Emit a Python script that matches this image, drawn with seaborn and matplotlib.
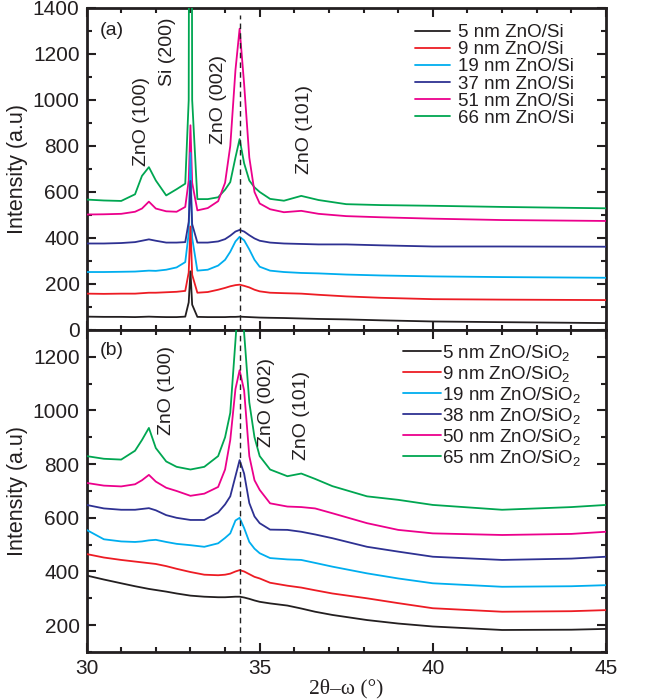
import numpy as np
import pandas as pd
import seaborn as sns
import matplotlib
matplotlib.use("Agg")
import matplotlib.pyplot as plt
from matplotlib.ticker import MultipleLocator

sns.set_theme(style="ticks")
plt.rcParams['font.family'] = ['Liberation Sans', 'DejaVu Sans']
plt.rcParams['mathtext.fontset'] = 'custom'
plt.rcParams['mathtext.rm'] = 'Liberation Sans'
plt.rcParams['mathtext.it'] = 'Liberation Sans:italic'

# ---------------- data: panel (a) ZnO/Si ----------------
x_a = [30, 30.5, 31, 31.4, 31.6, 31.8, 32.0, 32.3, 32.6, 32.85, 32.95, 33.0, 33.05,
       33.2, 33.5, 33.8, 34.0, 34.15, 34.3, 34.42, 34.55, 34.7, 34.85, 35.0, 35.3,
       35.7, 36.2, 36.7, 37.5, 38.5, 40, 42, 45]
a_5nm = [58, 57, 57, 56, 57, 58, 57, 56, 56, 58, 120, 255, 110, 57, 56, 56, 56, 57,
         57, 58, 57, 56, 55, 54, 53, 52, 50, 48, 46, 42, 37, 34, 30]
a_9nm = [158, 157, 158, 158, 160, 162, 162, 164, 166, 170, 250, 450, 240, 162, 165,
         175, 183, 190, 195, 197, 192, 185, 175, 168, 162, 160, 158, 153, 146, 140,
         134, 132, 130]
a_19nm = [252, 252, 253, 254, 256, 258, 257, 262, 272, 295, 420, 770, 400, 258, 262,
          280, 305, 340, 385, 405, 390, 350, 305, 275, 258, 252, 248, 246, 241, 237,
          233, 230, 227]
a_37nm = [376, 376, 378, 382, 388, 394, 388, 380, 380, 382, 470, 648, 460, 380, 380,
          385, 395, 410, 428, 435, 428, 412, 398, 388, 380, 376, 374, 372, 372, 368,
          363, 363, 362]
a_51nm = [502, 503, 505, 514, 528, 558, 528, 516, 514, 535, 650, 890, 640, 520, 530,
          560, 640, 800, 1130, 1310, 1070, 750, 600, 550, 525, 512, 518, 505, 495,
          490, 484, 478, 474]
a_66nm = [567, 563, 561, 590, 670, 708, 650, 585, 612, 636, 1000, 5000, 1000, 569,
          569, 577, 610, 643, 750, 830, 725, 650, 620, 600, 570, 562, 583, 565, 547,
          543, 540, 535, 529]
labels_a = ["5 nm ZnO/Si", "9 nm ZnO/Si", "19 nm ZnO/Si", "37 nm ZnO/Si",
            "51 nm ZnO/Si", "66 nm ZnO/Si"]

# ---------------- data: panel (b) ZnO/SiO2 ----------------
x_b = [30, 30.5, 31, 31.4, 31.6, 31.8, 32.0, 32.3, 32.6, 33.0, 33.4, 33.8, 34.0,
       34.15, 34.3, 34.42, 34.55, 34.7, 34.85, 35.0, 35.3, 35.8, 36.2, 36.6, 37.1,
       38.1, 39.0, 40, 42, 44, 45]
b_5nm = [385, 370, 356, 345, 340, 335, 331, 325, 318, 310, 306, 304, 304, 305, 306,
         306, 303, 298, 292, 287, 281, 273, 262, 250, 238, 219, 206, 195, 182, 183, 186]
b_9nm = [465, 452, 443, 437, 434, 431, 428, 420, 410, 398, 388, 386, 388, 392, 400,
         405, 400, 390, 380, 374, 358, 347, 340, 330, 318, 300, 282, 263, 250, 252, 256]
b_19nm = [555, 520, 512, 510, 512, 516, 518, 510, 503, 498, 492, 505, 525, 542, 590,
          600, 562, 510, 485, 468, 450, 445, 443, 432, 418, 393, 374, 356, 343, 345, 349]
b_38nm = [648, 635, 630, 630, 633, 636, 628, 610, 600, 592, 592, 620, 650, 680, 755,
          815, 765, 655, 605, 580, 556, 555, 548, 538, 524, 492, 474, 455, 443, 448, 455]
b_50nm = [730, 720, 717, 725, 740, 760, 735, 712, 700, 682, 690, 715, 780, 890, 1080,
          1150, 1075, 830, 740, 704, 654, 642, 640, 635, 617, 580, 555, 542, 536, 540, 548]
b_65nm = [830, 820, 817, 850, 890, 935, 860, 810, 790, 780, 790, 830, 900, 991, 1260,
          1480, 1290, 1030, 900, 830, 780, 755, 765, 745, 718, 680, 667, 648, 630, 640, 648]
labels_b = ["5 nm ZnO/SiO$_\\mathregular{2}$", "9 nm ZnO/SiO$_\\mathregular{2}$",
            "19 nm ZnO/SiO$_\\mathregular{2}$", "38 nm ZnO/SiO$_\\mathregular{2}$",
            "50 nm ZnO/SiO$_\\mathregular{2}$", "65 nm ZnO/SiO$_\\mathregular{2}$"]

colors = ["#231f20", "#ed1c24", "#00aeef", "#2e3192", "#ec008c", "#00a651"]

peaks_a = ["ZnO (100)", "Si (200)", "ZnO (002)", "ZnO (101)"]
peaks_a_x = [31.6, 32.35, 33.8, 36.3]
peaks_a_y = [715, 1060, 810, 680]
peaks_b = ["ZnO (100)", "ZnO (002)", "ZnO (101)"]
peaks_b_x = [32.3, 35.2, 36.2]
peaks_b_y = [910, 865, 815]

def long_df(x, series, labels):
    frames = []
    for ys, lab in zip(series, labels):
        frames.append(pd.DataFrame({"x": x, "y": ys, "sample": lab}))
    return pd.concat(frames, ignore_index=True)

df_a = long_df(x_a, [a_5nm, a_9nm, a_19nm, a_37nm, a_51nm, a_66nm], labels_a)
df_b = long_df(x_b, [b_5nm, b_9nm, b_19nm, b_38nm, b_50nm, b_65nm], labels_b)

fig = plt.figure(figsize=(6.46, 7.0), dpi=100)
ax1 = fig.add_axes([0.134, 0.5286, 0.804, 0.46])
ax2 = fig.add_axes([0.134, 0.0686, 0.804, 0.46])

for ax, df, labs in ((ax1, df_a, labels_a), (ax2, df_b, labels_b)):
    sns.lineplot(data=df, x="x", y="y", hue="sample", hue_order=labs,
                 palette=colors, estimator=None, sort=False, lw=1.3, ax=ax,
                 legend=True)
    zs = [8, 7, 5, 6, 4, 3]
    for ln, z in zip(ax.lines[:6], zs):
        ln.set_zorder(z)

# dashed reference line
ax1.axvline(34.42, ymin=0, ymax=1370 / 1400, color="#222222", lw=1.0,
            ls=(0, (4, 3)), zorder=10)
ax2.axvline(34.42, color="#222222", lw=1.0, ls=(0, (4, 3)), zorder=10)

ax1.set_xlim(30, 45)
ax2.set_xlim(30, 45)
ax1.set_ylim(0, 1400)
ax2.set_ylim(100, 1300)
ax1.yaxis.set_major_locator(MultipleLocator(200))
ax1.yaxis.set_minor_locator(MultipleLocator(100))
ax2.yaxis.set_major_locator(plt.FixedLocator([200, 400, 600, 800, 1000, 1200]))
ax2.yaxis.set_minor_locator(MultipleLocator(100))
for ax in (ax1, ax2):
    ax.xaxis.set_major_locator(MultipleLocator(5))
    ax.xaxis.set_minor_locator(MultipleLocator(1))
    ax.tick_params(which="both", direction="in", top=True, right=True,
                   labelsize=15, width=1.5, colors="#231f20", pad=5)
    ax.tick_params(which="major", length=6.5)
    ax.tick_params(which="minor", length=3.5)
    for sp in ax.spines.values():
        sp.set_linewidth(2.0)
        sp.set_color("#231f20")
    ax.set_ylabel("Intensity (a.u)", fontsize=15.5, color="#231f20", labelpad=2)
ax1.tick_params(labelbottom=False)
ax1.set_xlabel("")
ax2.set_xlabel("2θ–ω (°)", family=["Liberation Serif", "DejaVu Serif"],
               fontsize=15.5, color="#231f20", labelpad=1)
ax2.set_yticklabels(["200", "400", "600", "800", "1000", "1200"])
ax1.yaxis.set_label_coords(-0.112, 0.5)
ax2.yaxis.set_label_coords(-0.112, 0.5)

for t, x, y in zip(peaks_a, peaks_a_x, peaks_a_y):
    ax1.text(x, y, t, rotation=90, ha="center", va="bottom", fontsize=14,
             color="#231f20")
for t, x, y in zip(peaks_b, peaks_b_x, peaks_b_y):
    ax2.text(x, y, t, rotation=90, ha="center", va="bottom", fontsize=14,
             color="#231f20")
ax1.text(30.72, 1300, "(a)", ha="center", va="center", fontsize=14, color="#231f20")
ax2.text(30.72, 1222, "(b)", ha="center", va="center", fontsize=14, color="#231f20")

h, l = ax1.get_legend_handles_labels()
ax1.get_legend().remove()
leg1 = ax1.legend(h[:6], l[:6], loc="upper left", bbox_to_anchor=(0.632, 0.95),
                  frameon=False, fontsize=13.5, handlelength=1.85,
                  handletextpad=0.45, labelspacing=0.0, borderpad=0,
                  borderaxespad=0)
h, l = ax2.get_legend_handles_labels()
ax2.get_legend().remove()
leg2 = ax2.legend(h[:6], l[:6], loc="upper left", bbox_to_anchor=(0.609, 0.96),
                  frameon=False, fontsize=13.5, handlelength=2.05,
                  handletextpad=0.05, labelspacing=0.05, borderpad=0,
                  borderaxespad=0)
for leg in (leg1, leg2):
    for ln in leg.get_lines():
        ln.set_linewidth(1.3)
    for t in leg.get_texts():
        t.set_color("#231f20")

fig.savefig("out.png", dpi=100)
